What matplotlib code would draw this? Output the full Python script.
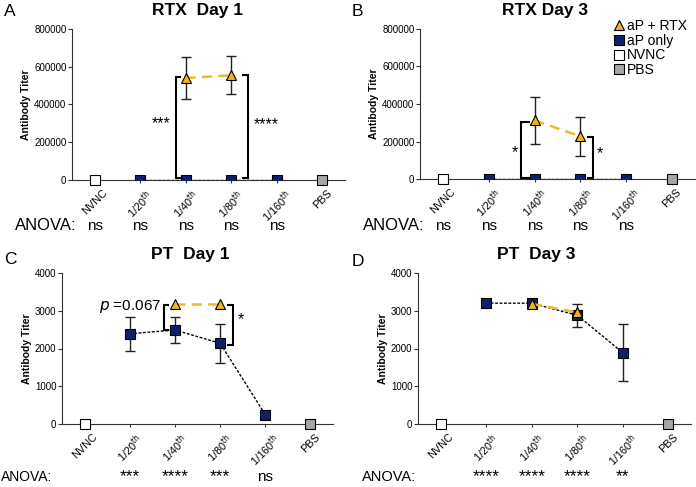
import numpy as np
import matplotlib
matplotlib.use('Agg')
import matplotlib.pyplot as plt
from matplotlib.lines import Line2D

plt.rcParams['font.family'] = ['Liberation Sans', 'DejaVu Sans']

cats = ['NVNC', '1/20$^{\\mathrm{th}}$', '1/40$^{\\mathrm{th}}$', '1/80$^{\\mathrm{th}}$',
        '1/160$^{\\mathrm{th}}$', 'PBS']

# aP only at 1/20..1/160, aP + RTX at 1/40 and 1/80
rtx1_ap = [0, 0, 0, 0]
rtx1_ap_err = [0, 0, 0, 0]
rtx1_rtx = [540000, 555000]
rtx1_rtx_err = [110000, 100000]

rtx3_ap = [0, 0, 0, 0]
rtx3_ap_err = [0, 0, 0, 0]
rtx3_rtx = [312000, 228000]
rtx3_rtx_err = [125000, 103000]

pt1_ap = [2390, 2490, 2140, 250]
pt1_ap_err = [455, 345, 520, 0]
pt1_rtx = [3190, 3190]
pt1_rtx_err = [0, 0]

pt3_ap = [3200, 3200, 2880, 1890]
pt3_ap_err = [0, 0, 310, 760]
pt3_rtx = [3180, 2960]
pt3_rtx_err = [0, 0]

nvnc_val = 0
pbs_val = 0

anova_rtx1 = ['ns', 'ns', 'ns', 'ns', 'ns']
anova_rtx3 = ['ns', 'ns', 'ns', 'ns', 'ns']
anova_pt1 = ['***', '****', '***', 'ns']
anova_pt3 = ['****', '****', '****', '**']

navy = '#0f1f6b'
gold = '#f2b21b'
gline = '#f5b52a'
MS = 6.8

fig = plt.figure(figsize=(6.96, 4.87), dpi=100)
W, H = 696, 487


def px_axes(l, t, r, b):
    return fig.add_axes([l / W, 1 - b / H, (r - l) / W, (b - t) / H])


def panel(ax, ap, ap_err, rtx, rtx_err, ymax, step):
    x_ap = [1, 2, 3, 4]
    x_rtx = [2, 3]
    ax.plot(x_ap, ap, ls=(0, (2, 1.2)), color='black', lw=1, zorder=2)
    ax.errorbar(x_ap, ap, yerr=[e if e > 0 else np.nan for e in ap_err], fmt='none',
                ecolor='#222222', elinewidth=1, capsize=3.5, capthick=1, zorder=3)
    ax.plot(x_ap, ap, 's', ms=MS, mfc=navy, mec='black', mew=0.8, zorder=4)
    ax.plot(x_rtx, rtx, ls=(0, (4, 2.5)), color=gline, lw=1.8, zorder=5)
    ax.errorbar(x_rtx, rtx, yerr=[e if e > 0 else np.nan for e in rtx_err], fmt='none',
                ecolor='#222222', elinewidth=1, capsize=3.5, capthick=1, zorder=5)
    ax.plot(x_rtx, rtx, '^', ms=MS + 0.5, mfc=gold, mec='black', mew=0.8, zorder=6)
    ax.plot([0], [nvnc_val], 's', ms=MS, mfc='white', mec='black', mew=0.8, zorder=4, clip_on=False)
    ax.plot([5], [pbs_val], 's', ms=MS, mfc='#a6a6a6', mec='black', mew=0.8, zorder=4, clip_on=False)
    ax.set_xlim(-0.5, 5.5)
    ax.set_ylim(0, ymax)
    ax.set_yticks(np.arange(0, ymax + 1, step))
    ax.set_xticks(range(6))
    ax.set_xticklabels(cats, rotation=45, ha='center', fontsize=7.8)
    ax.tick_params(axis='y', labelsize=7, length=3, pad=1, color='#333333')
    ax.tick_params(axis='x', length=2.5, pad=3, color='#333333')
    for s in ['top', 'right']:
        ax.spines[s].set_visible(False)
    ax.spines['left'].set_color('#333333')
    ax.spines['bottom'].set_color('#333333')
    ax.set_ylabel('Antibody Titer', fontsize=7.5, fontweight='bold', labelpad=2)


def bracket(ax, x, y0, y1, d, lw=1.5):
    ax.plot([x + d, x, x, x + d], [y0, y0, y1, y1], color='black', lw=lw, zorder=7,
            solid_joinstyle='miter', solid_capstyle='butt')


# A
axA = px_axes(72, 29, 345, 180)
panel(axA, rtx1_ap, rtx1_ap_err, rtx1_rtx, rtx1_rtx_err, 800000, 200000)
bracket(axA, 1.78, 12000, 545000, 0.12)
bracket(axA, 3.36, 12000, 555000, -0.12)
axA.text(1.45, 300000, '***', ha='center', va='center', fontsize=11.5)
axA.text(3.78, 295000, '****', ha='center', va='center', fontsize=11.5)
fig.text(197 / W, 1 - 11 / H, 'RTX  Day 1', ha='center', va='center', fontsize=12.5, fontweight='bold')
fig.text(4 / W, 1 - 12 / H, 'A', ha='left', va='center', fontsize=12.5)

# B
axB = px_axes(420, 29, 695, 179)
panel(axB, rtx3_ap, rtx3_ap_err, rtx3_rtx, rtx3_rtx_err, 800000, 200000)
bracket(axB, 1.70, 4000, 305000, 0.2)
bracket(axB, 3.27, 4000, 225000, -0.12)
axB.text(1.58, 140000, '*', ha='center', va='center', fontsize=11.5)
axB.text(3.42, 135000, '*', ha='center', va='center', fontsize=11.5)
fig.text(545 / W, 1 - 11 / H, 'RTX Day 3', ha='center', va='center', fontsize=12.5, fontweight='bold')
fig.text(352 / W, 1 - 12 / H, 'B', ha='left', va='center', fontsize=12.5)

handles = [Line2D([], [], ls='none', marker='^', ms=7, mfc=gold, mec='black', mew=0.8),
           Line2D([], [], ls='none', marker='s', ms=6.5, mfc=navy, mec='black', mew=0.8),
           Line2D([], [], ls='none', marker='s', ms=6.5, mfc='white', mec='black', mew=0.8),
           Line2D([], [], ls='none', marker='s', ms=6.5, mfc='#a6a6a6', mec='black', mew=0.8)]
fig.legend(handles, ['aP + RTX', 'aP only', 'NVNC', 'PBS'], loc='upper left',
           bbox_to_anchor=(612 / W, 1 - 19 / H), frameon=False, fontsize=10, handletextpad=0.1,
           labelspacing=0.05, handlelength=1.0, borderaxespad=0, borderpad=0)

# C
axC = px_axes(62, 273, 333, 424)
panel(axC, pt1_ap, pt1_ap_err, pt1_rtx, pt1_rtx_err, 4000, 1000)
bracket(axC, 1.76, 2500, 3150, 0.12)
bracket(axC, 3.28, 2100, 3150, -0.12)
axC.text(1.70, 3120, '$p$ =0.067', ha='right', va='center', fontsize=11)
axC.text(3.45, 2760, '*', ha='center', va='center', fontsize=11.5)
fig.text(190 / W, 1 - 254 / H, 'PT  Day 1', ha='center', va='center', fontsize=12.5, fontweight='bold')
fig.text(4 / W, 1 - 260 / H, 'C', ha='left', va='center', fontsize=12.5)

# D
axD = px_axes(418, 273, 691, 424)
panel(axD, pt3_ap, pt3_ap_err, pt3_rtx, pt3_rtx_err, 4000, 1000)
fig.text(536 / W, 1 - 254 / H, 'PT  Day 3', ha='center', va='center', fontsize=12.5, fontweight='bold')
fig.text(352 / W, 1 - 262 / H, 'D', ha='left', va='center', fontsize=12.5)


# ANOVA rows
def anova(ax, xs, labels, ypix, xlab, lsize, vsize):
    fig.text(xlab / W, 1 - ypix / H, 'ANOVA:', ha='left', va='center', fontsize=lsize)
    for x, s in zip(xs, labels):
        xd = ax.transData.transform((x, 0))[0]
        sz = vsize + 1.5 if '*' in s else vsize
        fig.text(xd / W, 1 - ypix / H, s, ha='center', va='center', fontsize=sz)


anova(axA, [0, 1, 2, 3, 4], anova_rtx1, 226, 15, 12, 11)
anova(axB, [0, 1, 2, 3, 4], anova_rtx3, 226, 363, 12, 11)
anova(axC, [1, 2, 3, 4], anova_pt1, 477, 1, 10, 11)
anova(axD, [1, 2, 3, 4], anova_pt3, 477, 362, 10.5, 11)

fig.savefig('out.png', dpi=100)
